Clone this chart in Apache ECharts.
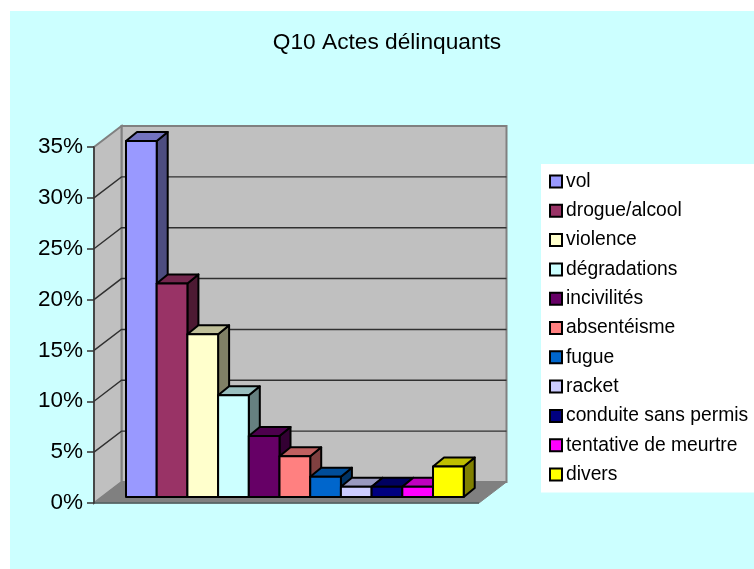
<!DOCTYPE html>
<html><head><meta charset="utf-8">
<style>html,body{margin:0;padding:0;background:#fff}#c{width:754px;height:569px}</style>
<script src="https://cdn.jsdelivr.net/npm/echarts@6/dist/echarts.min.js"></script>
</head><body><div id="c"></div>
<script>
const chartTitle = 'Q10 Actes délinquants';
const category = 'Q10';
const names = ['vol','drogue/alcool','violence','dégradations','incivilités','absentéisme','fugue','racket','conduite sans permis','tentative de meurtre','divers'];
const values = [35,21,16,10,6,4,2,1,1,1,3];
const colors = ['#9999FF','#993366','#FFFFCC','#CCFFFF','#660066','#FF8080','#0066CC','#CCCCFF','#000080','#FF00FF','#FFFF00'];
const ticks = [0,5,10,15,20,25,30,35];

const DX = 27.5, DY = -21;       // wall depth
const BDX = 8, BDY = -6;         // bar front plane offset
const BAR_DX = 11, BAR_DY = -9;  // bar depth
const GAP = 24;                  // space before first bar
const BAR_RATIO = 12.54;         // band width / bar width

function shade(hex, f){
  const n = parseInt(hex.slice(1),16);
  const c = [n>>16&255,n>>8&255,n&255].map(v=>Math.round(v*f));
  return 'rgb('+c.join(',')+')';
}
function wallItem(params, api){
  const v = api.value(0);
  const c = api.coord([0,v]);
  const band = api.size([1,0])[0];
  const L = c[0]-band/2, R = c[0]+band/2, y = c[1];
  const children = [];
  if (v === ticks[0]) {
    const top = api.coord([0,ticks[ticks.length-1]])[1];
    const wallStyle = {fill:'#C0C0C0',stroke:'#808080',lineWidth:2};
    children.push({type:'polygon',shape:{points:[[L+DX,top+DY],[R+DX,top+DY],[R+DX,y+DY],[L+DX,y+DY]]},style:wallStyle});
    children.push({type:'polygon',shape:{points:[[L,top],[L+DX,top+DY],[L+DX,y+DY],[L,y]]},style:wallStyle});
    children.push({type:'polygon',shape:{points:[[L,y],[R,y],[R+DX,y+DY],[L+DX,y+DY]]},style:{fill:'#808080',stroke:'#808080',lineWidth:1}});
    children.push({type:'line',shape:{x1:L,y1:y,x2:R,y2:y},style:{stroke:'#4f5f5f',lineWidth:1.5}});
  } else if (v !== ticks[ticks.length-1]) {
    children.push({type:'polyline',shape:{points:[[L,y],[L+DX,y+DY],[R+DX,y+DY]]},style:{fill:null,stroke:'#303030',lineWidth:1.4}});
  }
  return {type:'group',children};
}
function barItem(i){
  return function(params, api){
    const top = api.coord([0,api.value(1)]);
    const base = api.coord([0,0]);
    const band = api.size([1,0])[0];
    const w = band/BAR_RATIO;
    const x0 = base[0]-band/2+BDX+GAP+i*w, x1 = x0+w;
    const yT = top[1]+BDY, yB = base[1]+BDY;
    const st = f=>({fill:shade(colors[i],f),stroke:'#000',lineWidth:2,lineJoin:'round'});
    return {type:'group',children:[
      {type:'polygon',shape:{points:[[x1,yT],[x1+BAR_DX,yT+BAR_DY],[x1+BAR_DX,yB+BAR_DY],[x1,yB]]},style:st(0.5)},
      {type:'polygon',shape:{points:[[x0,yT],[x0+BAR_DX,yT+BAR_DY],[x1+BAR_DX,yT+BAR_DY],[x1,yT]]},style:st(0.75)},
      {type:'rect',shape:{x:x0,y:yT,width:w,height:yB-yT},style:st(1)}
    ]};
  };
}
const series = [{
  type:'custom',name:'walls',silent:true,z:1,coordinateSystem:'cartesian2d',
  encode:{y:0},clip:false,
  data:ticks.map(t=>[t]),
  renderItem:wallItem
}].concat(names.map((n,i)=>({
  type:'custom',name:n,z:3+i,coordinateSystem:'cartesian2d',clip:false,
  itemStyle:{color:colors[i]},
  encode:{x:0,y:1},
  data:[[category,values[i]]],
  renderItem:barItem(i)
})));
const chart = echarts.init(document.getElementById('c'),null,{renderer:'canvas'});
chart.setOption({
  animation:false,
  backgroundColor:'#fff',
  graphic:[{type:'rect',z:-100,silent:true,shape:{x:10,y:11,width:744,height:558},style:{fill:'#CCFFFF'}}],
  title:{text:chartTitle,left:382,top:26,textAlign:'center',textStyle:{fontFamily:'Liberation Sans',fontSize:22.7,fontWeight:'normal',color:'#000'}},
  grid:{left:94,top:147,width:385,height:356,containLabel:false},
  xAxis:{type:'category',data:[category],show:false},
  yAxis:{type:'value',min:0,max:35,interval:5,z:20,
    axisLine:{show:true,lineStyle:{color:'#333',width:1.5}},
    axisTick:{show:true,length:7,lineStyle:{color:'#333',width:1.5}},
    axisLabel:{formatter:'{value}%',margin:11,fontFamily:'Liberation Sans',fontSize:22.5,color:'#000'},
    splitLine:{show:false}},
  legend:{data:names,orient:'vertical',left:541,top:164,
    padding:[8,20,8.5,8],backgroundColor:'#fff',itemWidth:12,itemHeight:12,itemGap:10.3,
    icon:'rect',
    itemStyle:{borderColor:'#000',borderWidth:2},
    textStyle:{fontFamily:'Liberation Sans',fontSize:19.3,color:'#000',padding:[0,0,0,-1]},
    selectedMode:false},
  series
});
</script></body></html>
